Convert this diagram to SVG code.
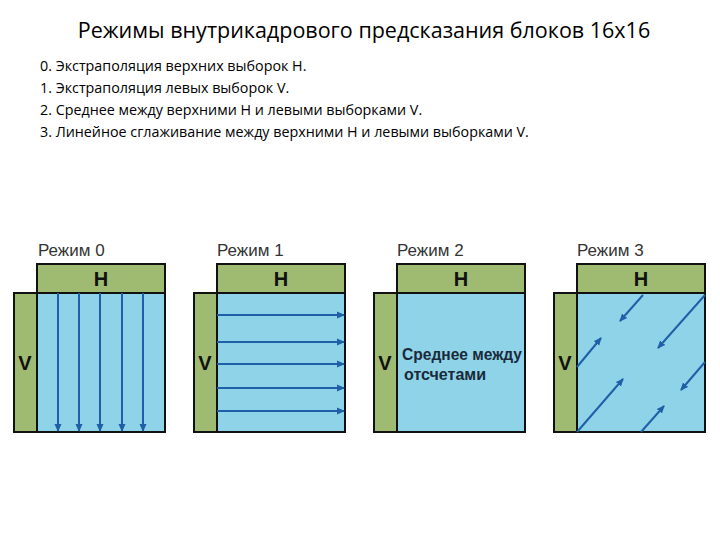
<svg xmlns="http://www.w3.org/2000/svg" width="720" height="540" viewBox="0 0 720 540">
<style>
.t{font-family:"Open Sans","Liberation Sans",sans-serif;fill:#000}
.m{font-family:"Liberation Sans",Arial,sans-serif;font-size:17px;fill:#333}
.g{fill:#9fbb72;stroke:#111;stroke-width:2}
.b{fill:#8fd3e8;stroke:#111;stroke-width:2}
.hv{font-family:"Liberation Sans",Arial,sans-serif;font-size:20px;font-weight:bold;fill:#111;text-anchor:middle}
.a{stroke:#1f5fa8;stroke-width:2;fill:none;marker-end:url(#ah)}
</style>
<defs><marker id="ah" markerWidth="8" markerHeight="8" refX="7" refY="4" orient="auto" markerUnits="userSpaceOnUse"><path d="M0,0.5L8,4L0,7.5z" fill="#1f5fa8"/></marker></defs>
<rect width="720" height="540" fill="#fff"/>
<text class="t" x="364" y="38" font-size="21.5" text-anchor="middle">Режимы внутрикадрового предсказания блоков 16х16</text>
<g class="t" font-size="14.3">
<text x="40" y="71">0. Экстраполяция верхних выборок H.</text>
<text x="40" y="93">1. Экстраполяция левых выборок V.</text>
<text x="40" y="115">2. Среднее между верхними H и левыми выборками V.</text>
<text x="40" y="137">3. Линейное сглаживание между верхними H и левыми выборками V.</text>
</g>
<g id="mode0">
<text class="m" x="38" y="256">Режим 0</text>
<rect class="g" x="37" y="264" width="128" height="29"/><text class="hv" x="101" y="286">H</text>
<rect class="g" x="14" y="293" width="23" height="139"/><text class="hv" x="25" y="370">V</text>
<rect class="b" x="37" y="293" width="128" height="139"/>
</g>
<g id="mode1">
<text class="m" x="217" y="256">Режим 1</text>
<rect class="g" x="217" y="264" width="128" height="29"/><text class="hv" x="281" y="286">H</text>
<rect class="g" x="194" y="293" width="23" height="139"/><text class="hv" x="205" y="370">V</text>
<rect class="b" x="217" y="293" width="128" height="139"/>
</g>
<g id="mode2">
<text class="m" x="397" y="256">Режим 2</text>
<rect class="g" x="397" y="264" width="128" height="29"/><text class="hv" x="461" y="286">H</text>
<rect class="g" x="374" y="293" width="23" height="139"/><text class="hv" x="385" y="370">V</text>
<rect class="b" x="397" y="293" width="128" height="139"/>
<text x="462" y="360" font-family="Liberation Sans Narrow,Liberation Sans,sans-serif" font-size="16" font-weight="bold" fill="#1a2a3a" text-anchor="middle" textLength="120" lengthAdjust="spacingAndGlyphs">Среднее между</text>
<text x="445" y="380" font-family="Liberation Sans Narrow,Liberation Sans,sans-serif" font-size="16" font-weight="bold" fill="#1a2a3a" text-anchor="middle" textLength="82" lengthAdjust="spacingAndGlyphs">отсчетами</text>
</g>
<g id="mode3">
<text class="m" x="577" y="256">Режим 3</text>
<rect class="g" x="577" y="264" width="128" height="29"/><text class="hv" x="641" y="286">H</text>
<rect class="g" x="554" y="293" width="23" height="139"/><text class="hv" x="565" y="370">V</text>
<rect class="b" x="577" y="293" width="128" height="139"/>
</g>
<g id="connectors">
<line class="a" x1="58" y1="293" x2="58" y2="431"/>
<line class="a" x1="79" y1="293" x2="79" y2="431"/>
<line class="a" x1="100" y1="293" x2="100" y2="431"/>
<line class="a" x1="122" y1="293" x2="122" y2="431"/>
<line class="a" x1="143" y1="293" x2="143" y2="431"/>
<line class="a" x1="217" y1="315" x2="344" y2="315"/>
<line class="a" x1="217" y1="342" x2="344" y2="342"/>
<line class="a" x1="217" y1="364" x2="344" y2="364"/>
<line class="a" x1="217" y1="388" x2="344" y2="388"/>
<line class="a" x1="217" y1="411" x2="344" y2="411"/>
<line class="a" x1="643" y1="295" x2="620" y2="321"/>
<line class="a" x1="705" y1="295" x2="658" y2="348"/>
<line class="a" x1="705" y1="362" x2="681" y2="390"/>
<line class="a" x1="577" y1="367" x2="601" y2="338"/>
<line class="a" x1="577" y1="432" x2="623" y2="379"/>
<line class="a" x1="641" y1="432" x2="664" y2="406"/>
</g>
</svg>
